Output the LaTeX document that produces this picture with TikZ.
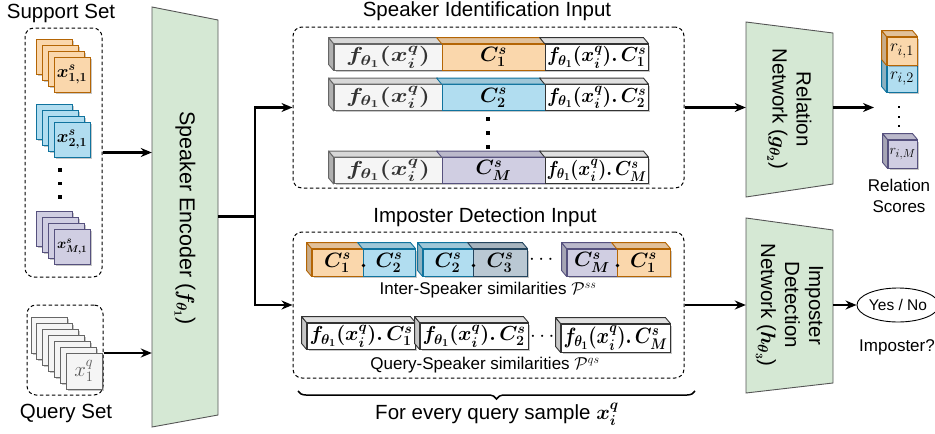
\documentclass[tikz,border=0pt]{standalone}
\usepackage{fontspec}
\setmainfont{Liberation Sans}
\usepackage{amsmath,bm,graphicx}
\usetikzlibrary{calc,decorations.pathreplacing,arrows.meta,shapes.geometric,shadows}
\definecolor{ofill}{HTML}{FAD7AC}\definecolor{ostroke}{HTML}{B46504}
\definecolor{bfill}{HTML}{B1DDF0}\definecolor{bstroke}{HTML}{10739E}
\definecolor{pfill}{HTML}{D0CEE2}\definecolor{pstroke}{HTML}{56517E}
\definecolor{gfill}{HTML}{F5F5F5}\definecolor{gstroke}{HTML}{666666}
\definecolor{sfill}{HTML}{BAC8D3}\definecolor{sstroke}{HTML}{23445D}
\definecolor{nfill}{HTML}{D5E8D4}\definecolor{nstroke}{HTML}{555555}
\newcommand\topf[3]{\filldraw[fill=#2, draw=#3, line width=0.9pt, line join=round] (#1.north west) -- ++(-5,-6) -- ($(#1.north east)+(-5,-6)$) -- (#1.north east) -- cycle;}
\newcommand\leftf[3]{\filldraw[fill=#2, draw=#3, line width=0.9pt, line join=round] (#1.north west) -- ++(-5,-6) -- ($(#1.south west)+(-5,-6)$) -- (#1.south west) -- cycle;}
\newcommand\fitw[2]{\resizebox{#1pt}{!}{#2}}
\newcommand\fitwh[3]{\resizebox*{#1pt}{#2pt}{#3}}
\newcommand\fq{\bm{f_{\theta_1}(x_i^q)}}
\tikzset{
  lbl/.style={font=\fontsize{20.5}{24}\selectfont, inner sep=0pt},
  sm/.style={font=\fontsize{17}{20}\selectfont, inner sep=0pt},
  dbox/.style={draw, dash pattern=on 3.5pt off 2.5pt, rounded corners=9pt, line width=1pt},
  shd/.style={drop shadow={shadow xshift=1.6pt, shadow yshift=-1.6pt, opacity=0.22, fill=black}},
  card/.style={draw, rectangle, minimum width=36, minimum height=35, inner sep=0pt, line width=0.9pt, shd, font=\fontsize{22}{24}\selectfont},
  seg/.style={draw, rectangle, inner sep=0pt, line width=0.9pt, minimum height=26, shd, font=\fontsize{21}{23}\selectfont},
  arr/.style={line width=2.1pt, -{Stealth[length=11pt,width=9pt]}},
  conn/.style={line width=2.1pt},
  netw/.style={fill=nfill, draw=nstroke, line width=0.9pt},
  dotm/.style={fill=black, inner sep=0pt, minimum size=3.4pt, rectangle},
  cube/.style={rectangle, line width=0.9pt, inner sep=0pt, shd, font=\fontsize{19}{21}\selectfont},
}
\begin{document}
\begin{tikzpicture}[x=1pt,y=-1pt]
\useasboundingbox (0,0) rectangle (935,434);

% ---------- Support set ----------
\node[lbl] (suplbl) at (61,13) {Support Set};
\node[dbox, minimum width=77, minimum height=249] (sup) at (63.5,152.5) {};
\foreach \i in {0,...,2} {\node[card, fill=ofill, draw=ostroke] (o\i) at ({54+6*\i},{56.5+6*\i}) {};}
\node[card, fill=ofill, draw=ostroke] (o3) at (72,74.5) {\fitw{30}{$\bm{x^s_{1,1}}$}};
\foreach \i in {0,...,2} {\node[card, fill=bfill, draw=bstroke] (b\i) at ({54+6*\i},{121.5+6*\i}) {};}
\node[card, fill=bfill, draw=bstroke] (b3) at (72,139.5) {\fitw{30}{$\bm{x^s_{2,1}}$}};
\node[dotm] (sd1) at (60,170) {};
\node[dotm] (sd2) at (60,183.5) {};
\node[dotm] (sd3) at (60,197) {};
\foreach \i in {0,...,2} {\node[card, fill=pfill, draw=pstroke] (p\i) at ({54+6*\i},{228.5+6*\i}) {};}
\node[card, fill=pfill, draw=pstroke] (p3) at (72,246.5) {\fitw{30}{$\bm{x^s_{M,1}}$}};

% ---------- Query set ----------
\node[dbox, minimum width=76, minimum height=90] (qry) at (65,350) {};
\foreach \i in {0,...,5} {\node[card, minimum height=36, fill=gfill, draw=gstroke] (q\i) at ({49+35/6*\i},{335+6*\i}) {};}
\node[card, minimum height=36, fill=gfill, draw=gstroke, text=black!65] (q6) at (84,371) {$x^q_1$};
\node[lbl] (qrylbl) at (66,413) {Query Set};

% ---------- Speaker encoder ----------
\filldraw[netw] (152,7) -- (218,20) -- (218,415) -- (152,427) -- cycle;
\node[minimum width=66, minimum height=420, inner sep=0pt] (enc) at (185,217) {};
\node[font=\fontsize{21.5}{24}\selectfont, inner sep=0pt, rotate=-90] (enclbl) at (185,218) {Speaker Encoder ($\bm{f_{\theta_1}}$)};
\draw[arr] (sup.east) -- (sup.east -| enc.west);
\draw[arr] ($(qry.east)+(0,3)$) -- ($(qry.east -| enc.west)+(0,3)$);
\coordinate (split) at (255,216.5);
\draw[conn] (enc.east |- split) -- (split);

% ---------- Speaker identification input ----------
\node[lbl] (sidlbl) at (487,11) {Speaker Identification Input};
\node[dbox, minimum width=391, minimum height=161] (sid) at (488.5,107.5) {};
\draw[arr] (split) |- (sid.west);

% row 1
\node[seg, fill=gfill, draw=gstroke, minimum width=108, text=black!80] (r1a) at (388,57) {\fitwh{84}{22}{$\fq$}};
\node[seg, fill=ofill, draw=ostroke, minimum width=103] (r1b) at (493.5,57) {$\bm{C_1^s}$};
\node[seg, fill=white, draw=black!80, minimum width=103] (r1c) at (596.5,57) {\fitwh{99}{22}{$\fq\bm{.\,C_1^s}$}};
\leftf{r1a}{gfill!72!black}{gstroke}\topf{r1a}{gfill!88!black}{gstroke}
\topf{r1b}{ofill!90!black}{ostroke}\topf{r1c}{white!88!black}{black!80}
% row 2
\node[seg, fill=gfill, draw=gstroke, minimum width=108, text=black!80] (r2a) at (388,97.5) {\fitwh{84}{22}{$\fq$}};
\node[seg, fill=bfill, draw=bstroke, minimum width=103] (r2b) at (493.5,97.5) {$\bm{C_2^s}$};
\node[seg, fill=white, draw=black!80, minimum width=103] (r2c) at (596.5,97.5) {\fitwh{99}{22}{$\fq\bm{.\,C_2^s}$}};
\leftf{r2a}{gfill!72!black}{gstroke}\topf{r2a}{gfill!88!black}{gstroke}
\topf{r2b}{bfill!90!black}{bstroke}\topf{r2c}{white!88!black}{black!80}
\node[dotm] (td1) at (488,119) {};
\node[dotm] (td2) at (488,133) {};
\node[dotm] (td3) at (488,147) {};
% row M
\node[seg, fill=gfill, draw=gstroke, minimum width=108, text=black!80] (rma) at (388,170.5) {\fitwh{84}{22}{$\fq$}};
\node[seg, fill=pfill, draw=pstroke, minimum width=103] (rmb) at (493.5,170.5) {$\bm{C_M^s}$};
\node[seg, fill=white, draw=black!80, minimum width=103] (rmc) at (596.5,170.5) {\fitwh{100}{22}{$\fq\bm{.\,C_M^s}$}};
\leftf{rma}{gfill!72!black}{gstroke}\topf{rma}{gfill!88!black}{gstroke}
\topf{rmb}{pfill!90!black}{pstroke}\topf{rmc}{white!88!black}{black!80}

% ---------- Imposter detection input ----------
\node[lbl] (idblbl) at (485,217) {Imposter Detection Input};
\node[dbox, minimum width=391, minimum height=146] (idb) at (488.5,305) {};
\draw[arr] (split) |- (idb.west);

\tikzset{iseg/.style={seg, minimum height=27, font=\fontsize{20.5}{22}\selectfont}}
\node[iseg, fill=ofill, draw=ostroke, minimum width=51] (i1a) at (337.5,262.5) {$\bm{C_1^s}$};
\node[iseg, fill=bfill, draw=bstroke, minimum width=52] (i1b) at (389,262.5) {$\bm{C_2^s}$};
\leftf{i1a}{ofill!80!black}{ostroke}\topf{i1a}{ofill!90!black}{ostroke}\topf{i1b}{bfill!90!black}{bstroke}
\node[iseg, fill=bfill, draw=bstroke, minimum width=50] (i2a) at (448,262.5) {$\bm{C_2^s}$};
\node[iseg, fill=sfill, draw=sstroke, minimum width=54] (i2b) at (500,262.5) {$\bm{C_3^s}$};
\leftf{i2a}{bfill!80!black}{bstroke}\topf{i2a}{bfill!90!black}{bstroke}\topf{i2b}{sfill!90!black}{sstroke}
\node[lbl] (idots1) at (543,260) {$\cdots$};
\node[iseg, fill=pfill, draw=pstroke, minimum width=50] (i3a) at (592,262.5) {$\bm{C_M^s}$};
\node[iseg, fill=ofill, draw=ostroke, minimum width=53] (i3b) at (643.5,262.5) {$\bm{C_1^s}$};
\leftf{i3a}{pfill!80!black}{pstroke}\topf{i3a}{pfill!90!black}{pstroke}\topf{i3b}{ofill!90!black}{ostroke}
\fill (i1a.east) ++(0,3) circle (1.9);
\fill (i2a.east) ++(0,3) circle (1.9);
\fill (i3a.east) ++(0,3) circle (1.9);
\node[sm] (psslbl) at (488,290) {Inter-Speaker similarities $\mathcal{P}^{ss}$};

\node[seg, fill=white, draw=black!80, minimum width=108] (j1) at (361,336) {\fitwh{103}{22}{$\fq\bm{.\,C_1^s}$}};
\node[seg, fill=white, draw=black!80, minimum width=108] (j2) at (474,336) {\fitwh{103}{22}{$\fq\bm{.\,C_2^s}$}};
\node[lbl] (jdots) at (544,337) {$\cdots$};
\node[seg, fill=white, draw=black!80, minimum width=109, minimum height=28] (j3) at (615.5,338) {\fitwh{104}{24}{$\fq\bm{.\,C_M^s}$}};
\leftf{j1}{white!78!black}{black!80}\topf{j1}{white!88!black}{black!80}
\leftf{j2}{white!78!black}{black!80}\topf{j2}{white!88!black}{black!80}
\leftf{j3}{white!78!black}{black!80}\topf{j3}{white!88!black}{black!80}
\node[sm] (pqslbl) at (485,365) {Query-Speaker similarities $\mathcal{P}^{qs}$};

% brace
\draw[decorate, decoration={brace, amplitude=8pt, mirror}, line width=1.5pt] (298,391) -- (695,391);
\node[lbl] (forlbl) at (497,414) {For every query sample $\bm{x_i^q}$};

% ---------- Relation network ----------
\filldraw[netw] (746,22) -- (833,33) -- (833,184) -- (746,197) -- cycle;
\node[minimum width=87, minimum height=175, inner sep=0pt] (rel) at (789.5,109.5) {};
\node[lbl, rotate=-90, align=center] (rellbl) at (789.5,109) {Relation\\Network ($\bm{g_{\theta_2}}$)};
\draw[arr] (sid.east) -- (sid.east -| rel.west);
\coordinate (relout) at (874,107.5);
\draw[arr] (sid.east -| rel.east) -- (relout);

% relation scores
\node[cube, draw=bstroke, fill=bfill, minimum width=30, minimum height=27] (rs2) at (902,78.5) {\fitw{24}{$r_{i,2}$}};
\leftf{rs2}{bfill!80!black}{bstroke}
\node[cube, draw=ostroke, fill=ofill, minimum width=30, minimum height=28] (rs1) at (902,51) {\fitw{24}{$r_{i,1}$}};
\leftf{rs1}{ofill!80!black}{ostroke}\topf{rs1}{ofill!90!black}{ostroke}
\node[dotm, minimum size=2.8pt] (rd1) at (899,107) {};
\node[dotm, minimum size=2.8pt] (rd2) at (899,117) {};
\node[dotm, minimum size=2.8pt] (rd3) at (899,126) {};
\node[cube, draw=pstroke, fill=pfill, minimum width=29, minimum height=28] (rsm) at (902.5,154) {\fitw{26}{$r_{i,M}$}};
\leftf{rsm}{pfill!80!black}{pstroke}\topf{rsm}{pfill!90!black}{pstroke}
\node[sm, align=center] (rslbl) at (899,195.5) {Relation\\[1pt]Scores};

% ---------- Imposter detection network ----------
\filldraw[netw] (746,218) -- (833,230) -- (833,383) -- (746,393) -- cycle;
\node[minimum width=87, minimum height=175, inner sep=0pt] (imp) at (789.5,305.5) {};
\node[lbl, rotate=-90, align=center] (implbl) at (789.5,305) {Imposter\\Detection\\Network ($\bm{h_{\theta_3}}$)};
\draw[arr] (idb.east) -- (idb.east -| imp.west);
\node[ellipse, draw, line width=0.9pt, minimum width=70, minimum height=34, inner sep=0pt, font=\fontsize{15.5}{18}\selectfont] (yes) at (898,305) {Yes / No};
\draw[arr] (idb.east -| imp.east) -- (yes.west);
\node[sm] (implbl2) at (897,347) {Imposter?};
\end{tikzpicture}
\end{document}
